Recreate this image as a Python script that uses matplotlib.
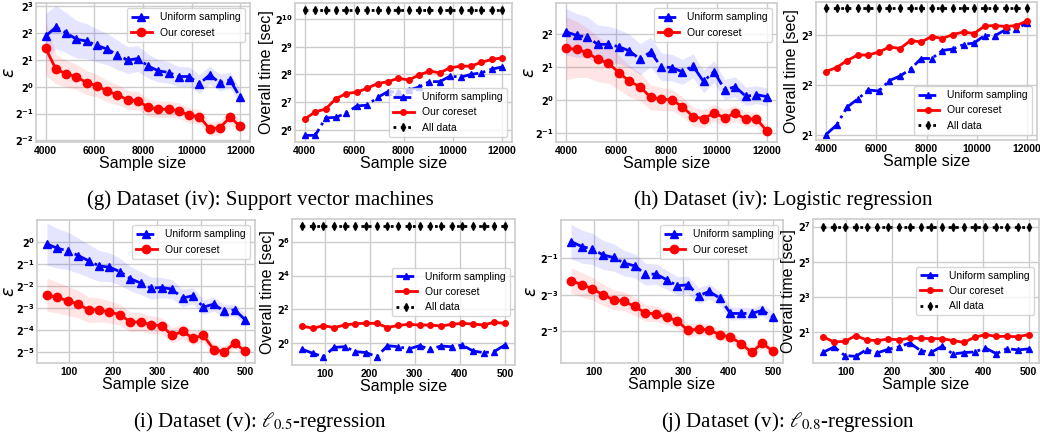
import numpy as np
import matplotlib
matplotlib.use('Agg')
import matplotlib.pyplot as plt
from matplotlib import ticker, transforms

# sample sizes
x_big = np.linspace(4000, 12000, 20)
x_small = np.linspace(50, 500, 20)

# values below are log2 of the plotted quantity
# (g) SVM: error
g_err_unif = [1.89, 2.22, 2.01, 1.77, 1.70, 1.54, 1.40, 1.19, 0.99, 1.05,
              0.77, 0.59, 0.53, 0.38, 0.38, 0.10, 0.44, 0.15, 0.25, -0.40]
g_err_unif_w = [0.85, 0.80, 0.75, 0.70, 0.65, 0.62, 0.58, 0.55, 0.50, 0.48,
                0.45, 0.42, 0.40, 0.37, 0.36, 0.35, 0.33, 0.32, 0.30, 0.30]
g_err_core = [1.43, 0.65, 0.49, 0.37, 0.15, 0.04, -0.17, -0.30, -0.49, -0.52,
              -0.77, -0.84, -0.84, -0.89, -1.07, -1.11, -1.57, -1.53, -1.14, -1.48]
g_err_core_w = [1.00, 0.55, 0.50, 0.47, 0.45, 0.42, 0.40, 0.37, 0.35, 0.34,
                0.32, 0.30, 0.30, 0.29, 0.28, 0.27, 0.26, 0.25, 0.25, 0.24]
# (g) SVM: time
g_t_unif = [5.80, 5.80, 6.43, 6.45, 6.61, 6.86, 6.89, 7.17, 7.38, 7.35,
            7.43, 7.55, 7.74, 7.74, 7.94, 7.90, 8.00, 8.06, 8.19, 8.27]
g_t_core = [6.39, 6.65, 6.75, 7.13, 7.31, 7.36, 7.50, 7.67, 7.74, 7.86,
            7.80, 7.98, 8.12, 8.06, 8.24, 8.30, 8.30, 8.44, 8.54, 8.60]
g_t_all = [10.32] * 20

# (h) logistic regression: error
h_err_unif = [2.06, 1.95, 1.90, 1.68, 1.68, 1.61, 1.48, 1.23, 1.45, 1.00,
              0.98, 0.85, 1.03, 0.56, 0.86, 0.31, 0.40, 0.11, 0.16, 0.10]
h_err_unif_w = [0.70, 0.66, 0.62, 0.58, 0.55, 0.52, 0.50, 0.47, 0.45, 0.42,
                0.40, 0.38, 0.36, 0.34, 0.33, 0.31, 0.30, 0.28, 0.27, 0.27]
h_err_core = [1.56, 1.53, 1.43, 1.23, 1.11, 0.83, 0.56, 0.40, 0.08, 0.03,
              0.00, -0.20, -0.50, -0.57, -0.39, -0.54, -0.40, -0.58, -0.57, -0.94]
h_err_core_w = [0.95, 0.85, 0.75, 0.68, 0.60, 0.52, 0.47, 0.42, 0.38, 0.35,
                0.32, 0.30, 0.28, 0.27, 0.26, 0.25, 0.24, 0.22, 0.21, 0.20]
# (h) logistic regression: time
h_t_unif = [1.01, 1.20, 1.56, 1.72, 1.90, 1.88, 2.09, 2.18, 2.32, 2.53,
            2.53, 2.69, 2.72, 2.81, 2.84, 2.99, 2.99, 3.11, 3.12, 3.24]
h_t_core = [2.27, 2.35, 2.49, 2.60, 2.60, 2.66, 2.76, 2.73, 2.89, 2.86,
            2.97, 2.93, 3.01, 3.06, 3.03, 3.18, 3.19, 3.17, 3.19, 3.28]
h_t_all = [3.55] * 20

# (i) l0.5 regression: error
i_err_unif = [-0.11, -0.30, -0.42, -0.63, -0.87, -1.10, -1.16, -1.36, -1.68, -1.88,
              -2.11, -2.08, -2.15, -2.56, -2.45, -2.97, -2.83, -3.16, -3.09, -3.54]
i_err_unif_w = [0.95, 0.90, 0.85, 0.80, 0.75, 0.70, 0.65, 0.60, 0.55, 0.52,
                0.50, 0.46, 0.43, 0.40, 0.37, 0.34, 0.31, 0.29, 0.27, 0.25]
i_err_core = [-2.41, -2.53, -2.68, -2.83, -3.09, -3.09, -3.19, -3.31, -3.64, -3.64,
              -3.77, -3.81, -4.25, -4.07, -4.37, -4.25, -4.89, -5.00, -4.59, -4.97]
i_err_core_w = [0.75, 0.70, 0.66, 0.62, 0.58, 0.54, 0.50, 0.47, 0.44, 0.42,
                0.40, 0.37, 0.35, 0.33, 0.31, 0.29, 0.27, 0.25, 0.23, 0.22]
# (i) l0.5 regression: time
i_t_unif = [-0.35, -0.59, -0.79, -0.24, -0.20, -0.49, -0.55, -0.79, -0.14, -0.20,
            -0.33, -0.14, -0.35, -0.16, -0.20, -0.10, -0.45, -0.55, -0.49, -0.10]
i_t_core = [1.02, 0.89, 1.04, 0.93, 1.08, 1.16, 1.18, 1.18, 0.93, 1.06,
            1.12, 1.08, 1.08, 1.02, 1.12, 1.18, 1.14, 1.08, 1.24, 1.18]
i_t_all = [6.93] * 20

# (j) l0.8 regression: error
j_err_unif = [-0.09, -0.36, -0.49, -0.82, -0.96, -1.27, -1.42, -1.87, -1.87, -2.18,
              -2.51, -2.45, -3.05, -2.82, -3.18, -4.02, -4.02, -4.02, -3.85, -4.22]
j_err_unif_w = [0.95, 0.90, 0.85, 0.80, 0.75, 0.70, 0.65, 0.60, 0.56, 0.52,
                0.50, 0.47, 0.44, 0.41, 0.38, 0.36, 0.34, 0.32, 0.31, 0.30]
j_err_core = [-2.22, -2.45, -2.67, -3.00, -3.27, -3.36, -3.64, -4.00, -4.04, -4.24,
              -4.42, -4.95, -4.87, -4.93, -5.18, -5.31, -5.67, -6.15, -5.64, -6.09]
j_err_core_w = [0.70, 0.66, 0.62, 0.58, 0.55, 0.52, 0.49, 0.46, 0.43, 0.40,
                0.38, 0.36, 0.34, 0.32, 0.30, 0.29, 0.28, 0.27, 0.26, 0.25]
# (j) l0.8 regression: time
j_t_unif = [-0.13, 0.17, -0.32, -0.36, 0.02, -0.17, 0.04, 0.17, 0.40, -0.04,
            -0.13, 0.21, -0.23, -0.15, -0.11, 0.11, -0.21, 0.08, 0.00, 0.06]
j_t_core = [0.74, 0.45, 0.49, 0.81, 0.57, 0.53, 0.62, 0.58, 0.66, 0.66,
            0.64, 0.64, 0.53, 0.43, 0.72, 0.87, 0.77, 0.77, 0.75, 0.87]
j_t_all = [7.00] * 20

captions = ['(g) Dataset (iv): Support vector machines',
            '(h) Dataset (iv): Logistic regression',
            r'(i) Dataset (v): $\ell_{0.5}$-regression',
            r'(j) Dataset (v): $\ell_{0.8}$-regression']

plt.rcParams['font.family'] = ['Liberation Sans', 'DejaVu Sans']
plt.rcParams['axes.edgecolor'] = '#cccccc'
plt.rcParams['grid.color'] = '#cccccc'

fig = plt.figure(figsize=(10.4, 4.42), dpi=100)


def ax_at(l, r, t, b):
    return fig.add_axes([l / 1040, 1 - b / 442, (r - l) / 1040, (b - t) / 442])


def style(ax, x, xticks, yexp, ylim):
    ax.set_yscale('log', base=2)
    ax.set_ylim(2.0 ** ylim[0], 2.0 ** ylim[1])
    ax.set_xlim(x[0] - 0.05 * (x[-1] - x[0]), x[-1] + 0.05 * (x[-1] - x[0]))
    ax.yaxis.set_major_locator(ticker.FixedLocator([2.0 ** k for k in yexp]))
    ax.yaxis.set_minor_locator(ticker.NullLocator())
    ax.yaxis.set_major_formatter(
        ticker.FuncFormatter(lambda v, p: r'$\mathbf{2^{%d}}$' % round(np.log2(v))))
    ax.set_xticks(xticks)
    ax.tick_params(axis='x', length=0, labelsize=7.5, pad=3)
    ax.tick_params(axis='y', length=0, labelsize=7, pad=1.5)
    for lab in ax.get_xticklabels():
        lab.set_fontweight('bold')
    ax.grid(True, lw=1)
    ax.set_axisbelow(True)
    ax.set_xlabel('Sample size', fontsize=11.5, labelpad=0)
    for s in ax.spines.values():
        s.set_linewidth(1.2)


def err_plot(ax, x, unif, unif_w, core, core_w, xticks, yexp, ylim, label_x):
    unif, unif_w = np.array(unif), np.array(unif_w)
    core, core_w = np.array(core), np.array(core_w)
    ax.fill_between(x, 2 ** (unif - unif_w), 2 ** (unif + unif_w),
                    color='blue', alpha=0.1, lw=0)
    ax.fill_between(x, 2 ** (core - core_w), 2 ** (core + core_w),
                    color='red', alpha=0.1, lw=0)
    ax.plot(x, 2 ** unif, color='blue', ls='-.', marker='^', ms=6, lw=2,
            label='Uniform sampling')
    ax.plot(x, 2 ** core, color='red', ls='-', marker='o', ms=6, lw=2,
            label='Our coreset')
    style(ax, x, xticks, yexp, ylim)
    ax.set_ylabel(r'$\varepsilon$', fontsize=12.5, va='center')
    trans = transforms.blended_transform_factory(fig.transFigure, ax.transAxes)
    ax.yaxis.set_label_coords(label_x / 1040, 0.5, transform=trans)
    ax.legend(loc='upper right', fontsize=7.5, framealpha=0.8)


def time_plot(ax, x, unif, core, full, xticks, yexp, ylim, loc):
    ax.plot(x, 2 ** np.array(unif), color='blue', ls='-.', marker='^', ms=4,
            lw=2, label='Uniform sampling')
    ax.plot(x, 2 ** np.array(core), color='red', ls='-', marker='o', ms=4,
            lw=2, label='Our coreset')
    ax.plot(x, 2 ** np.array(full), color='black', ls=':', marker='d', ms=4,
            lw=2, label='All data')
    style(ax, x, xticks, yexp, ylim)
    ax.set_ylabel('Overall time [sec]', fontsize=11.5, labelpad=1)
    ax.legend(loc=loc, fontsize=7.5, framealpha=0.8)


big_ticks = [4000, 6000, 8000, 10000, 12000]
small_ticks = [100, 200, 300, 400, 500]

err_plot(ax_at(36, 250, 3, 142), x_big, g_err_unif, g_err_unif_w,
         g_err_core, g_err_core_w, big_ticks, range(-2, 4), (-2.06, 3.12), 10)
time_plot(ax_at(295, 512, 3, 142), x_big, g_t_unif, g_t_core, g_t_all,
          big_ticks, range(6, 11), (5.56, 10.58), 'lower right')
err_plot(ax_at(556, 777, 3, 142), x_big, h_err_unif, h_err_unif_w,
         h_err_core, h_err_core_w, big_ticks, range(-1, 3), (-1.27, 2.93), 529)
time_plot(ax_at(816, 1037, 2, 140), x_big, h_t_unif, h_t_core, h_t_all,
          big_ticks, range(1, 4), (0.90, 3.66), 'lower right')
err_plot(ax_at(37, 255, 220, 363), x_small, i_err_unif, i_err_unif_w,
         i_err_core, i_err_core_w, small_ticks, range(-5, 1), (-5.5, 0.98), 10)
time_plot(ax_at(292, 515, 219, 365), x_small, i_t_unif, i_t_core, i_t_all,
          small_ticks, range(0, 7, 2), (-1.28, 7.34), 'center right')
err_plot(ax_at(561, 783, 220, 363), x_small, j_err_unif, j_err_unif_w,
         j_err_core, j_err_core_w, small_ticks, range(-5, 0, 2), (-6.73, 1.09), 532)
time_plot(ax_at(813, 1039, 219, 363), x_small, j_t_unif, j_t_core, j_t_all,
          small_ticks, range(1, 8, 2), (-0.74, 7.43), 'center right')

cap_pos = [(260, 200), (783, 200), (260, 422), (788, 422)]
for (cx, cy), txt in zip(cap_pos, captions):
    fig.text(cx / 1040, 1 - cy / 442, txt, ha='center', va='center',
             fontsize=15, family='Liberation Serif', math_fontfamily='stix')

fig.savefig('out.png', dpi=100)
